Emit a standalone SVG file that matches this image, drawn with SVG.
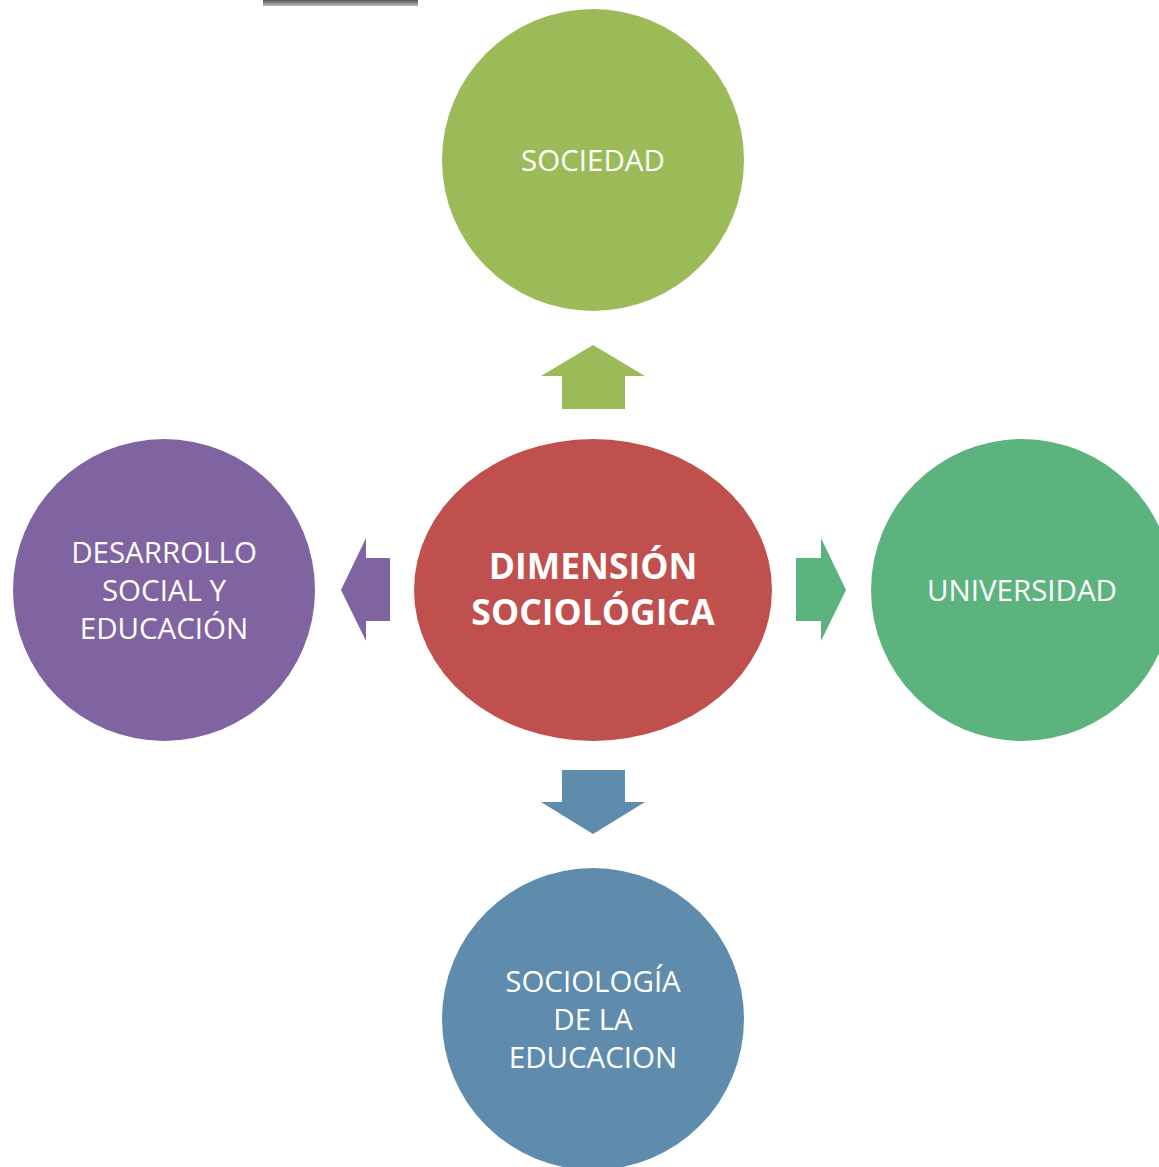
<svg xmlns="http://www.w3.org/2000/svg" width="1159" height="1167" viewBox="0 0 1159 1167">
<defs>
<style>
.t{font-family:"Open Sans","Liberation Sans",sans-serif;fill:#fff;text-anchor:middle;font-size:29.5px}
.b{font-family:"Open Sans","Liberation Sans",sans-serif;fill:#fff;text-anchor:middle;font-size:35.5px;font-weight:bold}
</style>
<linearGradient id="gb" x1="0" y1="0" x2="0" y2="1">
<stop offset="0" stop-color="#555"/><stop offset="1" stop-color="#bbb"/>
</linearGradient>
</defs>
<rect width="1159" height="1167" fill="#fff"/>
<rect x="263" y="0" width="155" height="6" fill="url(#gb)"/>
<g id="connectors">
<polygon fill="#9BBB59" points="593,345 645,376 625,376 625,409 562,409 562,376 541,376"/>
<polygon fill="#8064A2" points="341,590 366,538 366,558 390,558 390,621 366,621 366,641"/>
<polygon fill="#5DB37E" points="846,590 821,538 821,558 796,558 796,621 821,621 821,641"/>
<polygon fill="#5F8CAD" points="593,834 645,802 625,802 625,770 562,770 562,802 541,802"/>
</g>
<g id="sociedad">
<circle cx="593" cy="160" r="151" fill="#9BBB59"/>
<text class="t" x="593" y="171">SOCIEDAD</text>
</g>
<g id="dimension">
<ellipse cx="593" cy="590" rx="179" ry="151" fill="#C0504D"/>
<text class="b" x="593" y="579">DIMENSIÓN</text>
<text class="b" x="593" y="625">SOCIOLÓGICA</text>
</g>
<g id="desarrollo">
<circle cx="164" cy="590" r="151" fill="#8064A2"/>
<text class="t" x="164" y="563">DESARROLLO</text>
<text class="t" x="164" y="601">SOCIAL Y</text>
<text class="t" x="164" y="639">EDUCACIÓN</text>
</g>
<g id="universidad">
<circle cx="1022" cy="590" r="151" fill="#5DB37E"/>
<text class="t" x="1022" y="601">UNIVERSIDAD</text>
</g>
<g id="sociologia">
<circle cx="593" cy="1019" r="151" fill="#5F8CAD"/>
<text class="t" x="593" y="992">SOCIOLOGÍA</text>
<text class="t" x="593" y="1030">DE LA</text>
<text class="t" x="593" y="1068">EDUCACION</text>
</g>
</svg>
